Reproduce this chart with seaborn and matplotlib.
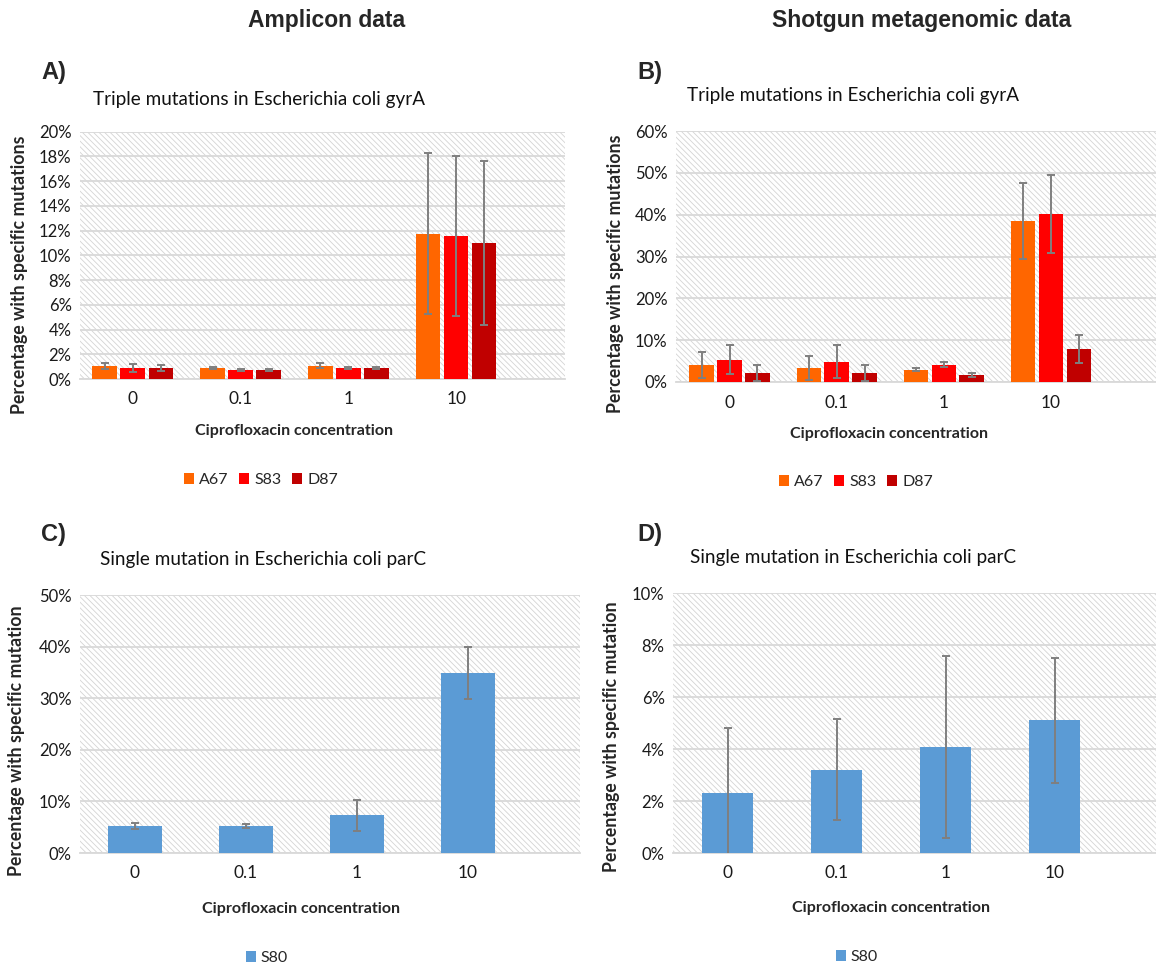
import matplotlib
matplotlib.use("Agg")
import matplotlib.pyplot as plt
from matplotlib.patches import Patch
import seaborn as sns
import pandas as pd

# data (percent)
concentrations = ['0', '0.1', '1', '10']
gyra_variants = ['A67', 'S83', 'D87']
parc_variants = ['S80']

# A) amplicon, gyrA triple mutations
amp_gyra_A67 = [1.05, 0.89, 1.08, 11.74]
amp_gyra_S83 = [0.89, 0.75, 0.89, 11.57]
amp_gyra_D87 = [0.89, 0.75, 0.89, 11.00]
amp_gyra_A67_err = [0.22, 0.10, 0.20, 6.5]
amp_gyra_S83_err = [0.33, 0.07, 0.10, 6.5]
amp_gyra_D87_err = [0.23, 0.07, 0.10, 6.6]

# B) shotgun, gyrA triple mutations
sg_gyra_A67 = [4.1, 3.3, 2.9, 38.5]
sg_gyra_S83 = [5.3, 4.9, 4.1, 40.1]
sg_gyra_D87 = [2.15, 2.15, 1.75, 7.9]
sg_gyra_A67_err = [3.1, 2.8, 0.35, 9.0]
sg_gyra_S83_err = [3.5, 4.0, 0.6, 9.3]
sg_gyra_D87_err = [2.0, 1.9, 0.5, 3.45]

# C) amplicon, parC single mutation
amp_parc_S80 = [5.2, 5.2, 7.3, 34.8]
amp_parc_S80_err = [0.55, 0.35, 2.95, 5.05]

# D) shotgun, parC single mutation
sg_parc_S80 = [2.31, 3.21, 4.08, 5.10]
sg_parc_S80_err = [2.5, 1.95, 3.5, 2.4]

gyra_colors = ['#FF6600', '#FF0000', '#C00000']
parc_colors = ['#5B9BD5']

W, H = 1156, 969


def px(x, y):
    return x / W, 1 - y / H


def to_frame(variants, series):
    rows = []
    for v, vals in zip(variants, series):
        for c, val in zip(concentrations, vals):
            rows.append({'conc': c, 'variant': v, 'pct': val})
    return pd.DataFrame(rows)


sns.set_style('white')
plt.rcParams['font.family'] = ['Lato', 'DejaVu Sans']
plt.rcParams['hatch.linewidth'] = 0.6

fig = plt.figure(figsize=(W / 100, H / 100), dpi=100)

panels = [
    dict(box=(80, 131.7, 565, 379), xlim=(-0.49, 4.01), ymax=20, step=2,
         variants=gyra_variants, colors=gyra_colors,
         vals=[amp_gyra_A67, amp_gyra_S83, amp_gyra_D87],
         errs=[amp_gyra_A67_err, amp_gyra_S83_err, amp_gyra_D87_err],
         width=0.78, gap=0.12,
         title='Triple mutations in Escherichia coli gyrA', title_xy=(259, 99),
         ylabel='Percentage with specific mutations', ylabel_xy=(20, 275),
         xlabel_xy=(294, 431), legend_xy=(261, 480), letter='A)', letter_xy=(54, 73)),
    dict(box=(676, 131, 1156, 382), xlim=(-0.5, 3.98), ymax=60, step=10,
         variants=gyra_variants, colors=gyra_colors,
         vals=[sg_gyra_A67, sg_gyra_S83, sg_gyra_D87],
         errs=[sg_gyra_A67_err, sg_gyra_S83_err, sg_gyra_D87_err],
         width=0.78, gap=0.12,
         title='Triple mutations in Escherichia coli gyrA', title_xy=(853, 96),
         ylabel='Percentage with specific mutations', ylabel_xy=(616, 274),
         xlabel_xy=(889, 434), legend_xy=(856, 482), letter='B)', letter_xy=(650, 73)),
    dict(box=(80, 595, 580, 853), xlim=(-0.495, 4.01), ymax=50, step=10,
         variants=parc_variants, colors=parc_colors,
         vals=[amp_parc_S80], errs=[amp_parc_S80_err],
         width=0.48, gap=0,
         title='Single mutation in Escherichia coli parC', title_xy=(263, 560),
         ylabel='Percentage with specific mutation', ylabel_xy=(17, 741),
         xlabel_xy=(301, 909), legend_xy=(267, 958), letter='C)', letter_xy=(53, 535)),
    dict(box=(673, 593, 1156, 853), xlim=(-0.5, 3.93), ymax=10, step=2,
         variants=parc_variants, colors=parc_colors,
         vals=[sg_parc_S80], errs=[sg_parc_S80_err],
         width=0.474, gap=0,
         title='Single mutation in Escherichia coli parC', title_xy=(853, 557),
         ylabel='Percentage with specific mutation', ylabel_xy=(612, 737),
         xlabel_xy=(891, 908), legend_xy=(857, 957), letter='D)', letter_xy=(650, 535)),
]

for p in panels:
    l, t, r, b = p['box']
    ax = fig.add_axes([l / W, 1 - b / H, (r - l) / W, (b - t) / H])
    ax.set_axisbelow(True)
    # Excel-like light diagonal hatch in the plot area
    ax.patch.set_facecolor('white')
    ax.patch.set_edgecolor('#d4d4d4')
    ax.patch.set_hatch('\\' * 6)
    ax.patch.set_linewidth(0)

    df = to_frame(p['variants'], p['vals'])
    sns.barplot(data=df, x='conc', y='pct', hue='variant', order=concentrations,
                hue_order=p['variants'], palette=p['colors'], width=p['width'],
                gap=p['gap'], errorbar=None, legend=False, linewidth=0,
                saturation=1, ax=ax, zorder=3)

    # error bars on top of each bar
    for h, cont in enumerate(list(ax.containers)):
        for bar in cont:
            xc = bar.get_x() + bar.get_width() / 2
            cat = int(round(xc))
            ax.errorbar(xc, bar.get_height(), yerr=p['errs'][h][cat], fmt='none',
                        ecolor='#7F7F7F', elinewidth=1.4, capsize=3, capthick=1.4,
                        zorder=4)

    ax.set_xlim(*p['xlim'])
    ax.set_ylim(0, p['ymax'])
    ticks = list(range(0, p['ymax'] + 1, p['step']))
    ax.set_yticks(ticks)
    ax.set_yticklabels([f'{v}%' for v in ticks])
    ax.yaxis.grid(True, color='#d9d9d9', linewidth=1.3)
    ax.xaxis.grid(False)
    for side in ['top', 'right', 'left']:
        ax.spines[side].set_visible(False)
    ax.spines['bottom'].set_color('#d9d9d9')
    ax.spines['bottom'].set_linewidth(1.3)
    ax.tick_params(axis='y', length=0, pad=6, labelsize=12, labelcolor='#1a1a1a')
    ax.tick_params(axis='x', length=0, pad=9, labelsize=12.5, labelcolor='#1a1a1a')

    ax.set_xlabel('Ciprofloxacin concentration', fontsize=11.5, fontweight='bold')
    ax.xaxis.set_label_coords(*px(*p['xlabel_xy']), transform=fig.transFigure)
    ax.xaxis.label.set_va('center')
    ax.set_ylabel(p['ylabel'], fontsize=12.8, fontweight='bold')
    ax.yaxis.set_label_coords(*px(*p['ylabel_xy']), transform=fig.transFigure)
    ax.yaxis.label.set_va('center')

    fig.text(*px(*p['title_xy']), p['title'], fontsize=13.6, ha='center', va='center',
             color='#111111')
    fig.text(*px(*p['letter_xy']), p['letter'], fontsize=17, fontweight='bold',
             ha='center', va='center', family='Liberation Sans')

    handles = [Patch(facecolor=c, edgecolor='none', label=v)
               for v, c in zip(p['variants'], p['colors'])]
    fig.legend(handles=handles, loc='center', bbox_to_anchor=px(*p['legend_xy']),
               ncol=len(handles), frameon=False, fontsize=11.5, handlelength=0.62,
               handleheight=0.62, handletextpad=0.3, columnspacing=0.7,
               borderpad=0)

fig.text(*px(327, 21), 'Amplicon data', fontsize=16.5, fontweight='bold',
         ha='center', va='center', family='Liberation Sans')
fig.text(*px(922, 21), 'Shotgun metagenomic data', fontsize=16.5, fontweight='bold',
         ha='center', va='center', family='Liberation Sans')

fig.savefig('out.png', dpi=100)
